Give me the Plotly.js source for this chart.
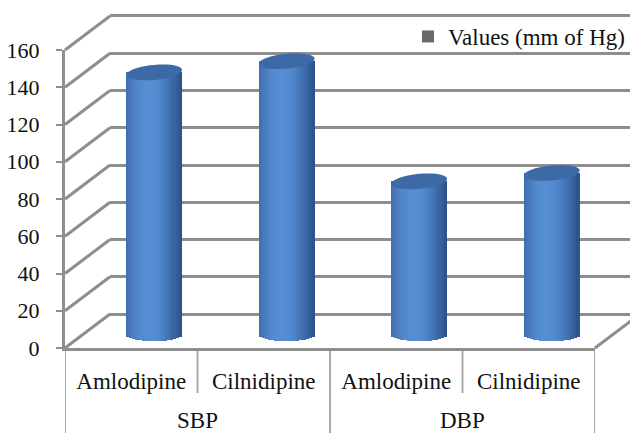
<!DOCTYPE html>
<html><head><meta charset="utf-8">
<script src="https://cdn.plot.ly/plotly-3.0.1.min.js"></script>
<style>
html,body{margin:0;padding:0;background:#fff}
text{font-family:"Liberation Serif",serif !important;}
</style>
</head><body><div id="chart" style="width:630px;height:433px"></div>
<script>
// ---- data ----
const groups = ['SBP', 'SBP', 'DBP', 'DBP'];
const drugs = ['Amlodipine', 'Cilnidipine', 'Amlodipine', 'Cilnidipine'];
const values = [141, 147, 82.5, 87];
const seriesName = 'Values (mm of Hg)';
const yTicks = [0, 20, 40, 60, 80, 100, 120, 140, 160];

// ---- geometry ----
const W = 630, H = 433, L = 65, T = 10, B = 85;
const pw = W - L, ph = H - T - B;
const FX0 = 65, FX1 = 595, FY0 = 348, FY1 = 50;   // front plane
const DX = 45, DY = 34;                           // depth offset (back wall)
const MX = 23, MY = 13;                           // bar plane offset
const scale = (FY0 - FY1) / 160;
const px2x = p => (p - L) / pw;
const py2y = p => (H - B - p) / ph;
const yFront = v => FY0 - v * scale;
const SERIF = 'serif';
const GRID = '#8e8e8e';

const xIdx = drugs.map((d, i) => i);

// ---- cylinder strips ----
const N = 18, BW = 0.42, ryTop = 7.5, ryBot = 6, tilt = 2.5;
function shade(t) {
  const dark = [40, 78, 134], light = [86, 142, 212];
  let s;
  if (t <= 0.4) s = 0.5 + 0.5 * Math.sin(t / 0.4 * Math.PI / 2);
  else s = 0.02 + 0.98 * Math.cos((t - 0.4) / 0.6 * Math.PI / 2);
  const c = dark.map((d, i) => Math.round(d + (light[i] - d) * s));
  return 'rgb(' + c.join(',') + ')';
}
const traces = [];
for (let k = 0; k < N; k++) {
  const u = (k + 0.5) / N, uc = 2 * u - 1;
  const b = -(ryBot / scale) * Math.sqrt(Math.max(0, 1 - uc * uc));
  traces.push({
    type: 'bar', x: xIdx, y: values.map(v => v - b), base: b,
    xaxis: 'x3', yaxis: 'y3',
    width: BW / N * 1.2, offset: -BW / 2 + k * BW / N - BW / N * 0.1,
    marker: {color: shade(u), line: {width: 0}},
    showlegend: false, hoverinfo: 'skip'
  });
}
// back wall subplot anchor trace (no visible points)
traces.unshift({type: 'scatter', mode: 'markers', x: [0], y: [-100], xaxis: 'x2', yaxis: 'y2',
  marker: {opacity: 0}, showlegend: false, hoverinfo: 'skip'});
// legend entry
traces.push({
  type: 'bar', x: [0], y: [0], base: [-50], xaxis: 'x3', yaxis: 'y3',
  name: seriesName, showlegend: true,
  marker: {color: '#6a6a6a', line: {width: 0}}
});

// ---- shapes ----
const shapes = [];
yTicks.forEach(v => {
  shapes.push({type: 'line', xref: 'paper', yref: 'paper', layer: 'below',
    x0: px2x(FX0), y0: py2y(yFront(v)), x1: px2x(FX0 + DX), y1: py2y(yFront(v) - DY),
    line: {color: GRID, width: 3}});
});
shapes.push({type: 'line', xref: 'paper', yref: 'paper', layer: 'below',
  x0: px2x(FX1), y0: py2y(FY0), x1: px2x(FX1 + DX), y1: py2y(FY0 - DY),
  line: {color: GRID, width: 3}});
for (let i = 0; i <= drugs.length; i++) {
  const isGroupEdge = i === 0 || i === drugs.length || groups[i] !== groups[i - 1];
  shapes.push({type: 'line', xref: 'x', yref: 'paper', layer: 'below',
    x0: i - 0.5, x1: i - 0.5, y0: 0, y1: py2y(isGroupEdge ? 440 : 393),
    line: {color: '#a9a9a9', width: 2}});
}
// tilted elliptical caps (x in data units, y in pixels relative to the bar top)
values.forEach((v, i) => {
  let d = '';
  const M = 40;
  for (let j = 0; j <= M; j++) {
    const th = 2 * Math.PI * j / M;
    const xx = i + (BW / 2) * Math.cos(th);
    const yy = ryTop * Math.sin(th) + tilt * Math.cos(th);
    d += (j === 0 ? 'M' : 'L') + xx.toFixed(4) + ',' + yy.toFixed(2);
  }
  d += 'Z';
  shapes.push({type: 'path', xref: 'x3', yref: 'y3', ysizemode: 'pixel', yanchor: v, path: d,
    fillcolor: '#3d69a7', line: {width: 0}, layer: 'above'});
});

// ---- group labels ----
const groupNames = [...new Set(groups)];
const annotations = groupNames.map(g => {
  const idx = xIdx.filter(i => groups[i] === g);
  return {text: g, xref: 'x', yref: 'paper', x: idx.reduce((a, b) => a + b, 0) / idx.length,
    y: py2y(421), showarrow: false, xanchor: 'center', yanchor: 'middle',
    font: {family: SERIF, size: 23, color: '#111'}};
});

const layout = {
  width: W, height: H,
  font: {family: SERIF, size: 22, color: '#111'},
  margin: {l: L, r: 0, t: T, b: B},
  paper_bgcolor: '#fff', plot_bgcolor: 'rgba(0,0,0,0)',
  barmode: 'overlay', bargap: 0,
  showlegend: true,
  legend: {x: 1, xanchor: 'right', y: py2y(15), yanchor: 'top', bgcolor: 'rgba(0,0,0,0)',
    font: {family: SERIF, size: 23, color: '#111'}},
  xaxis: {domain: [0, px2x(FX1)], range: [-0.5, 3.5], tickmode: 'array', tickvals: xIdx, ticktext: drugs,
    showline: true, linecolor: GRID, linewidth: 3, ticks: '', showgrid: false, zeroline: false,
    tickfont: {family: SERIF, size: 23, color: '#111'}, ticklabelstandoff: 10, anchor: 'y', fixedrange: true},
  yaxis: {domain: [py2y(FY0), py2y(FY1)], range: [0, 160], tickmode: 'array', tickvals: yTicks,
    showline: true, linecolor: GRID, linewidth: 3, ticks: 'outside', ticklen: 6, tickwidth: 2, tickcolor: GRID,
    showgrid: false, zeroline: false, tickfont: {family: SERIF, size: 22, color: '#111'},
    ticklabelstandoff: 12, anchor: 'x', fixedrange: true},
  xaxis2: {domain: [px2x(FX0 + DX), 1], range: [0, 1], showgrid: false, zeroline: false, showline: false,
    showticklabels: false, ticks: '', anchor: 'y2', fixedrange: true},
  yaxis2: {domain: [py2y(FY0 - DY + 2 * scale), py2y(FY1 - DY - 2 * scale)], range: [-2, 162],
    tickmode: 'array', tickvals: yTicks,
    showgrid: true, gridcolor: GRID, gridwidth: 3, zeroline: false, showline: false,
    showticklabels: false, ticks: '', anchor: 'x2', fixedrange: true},
  xaxis3: {domain: [px2x(FX0 + MX), px2x(FX1 + MX)], range: [-0.5, 3.5], visible: false, anchor: 'y3', fixedrange: true},
  yaxis3: {domain: [py2y(FY0), py2y(FY0 - MY - 160 * scale)], range: [-MY / scale, 160],
    visible: false, anchor: 'x3', fixedrange: true},
  shapes: shapes,
  annotations: annotations
};

Plotly.newPlot('chart', traces, layout, {displayModeBar: false, staticPlot: true}).then(gd => {
  gd.querySelectorAll('text').forEach(t => t.style.setProperty('font-family', '"Liberation Serif", serif', 'important'));
});
</script>
</body></html>
